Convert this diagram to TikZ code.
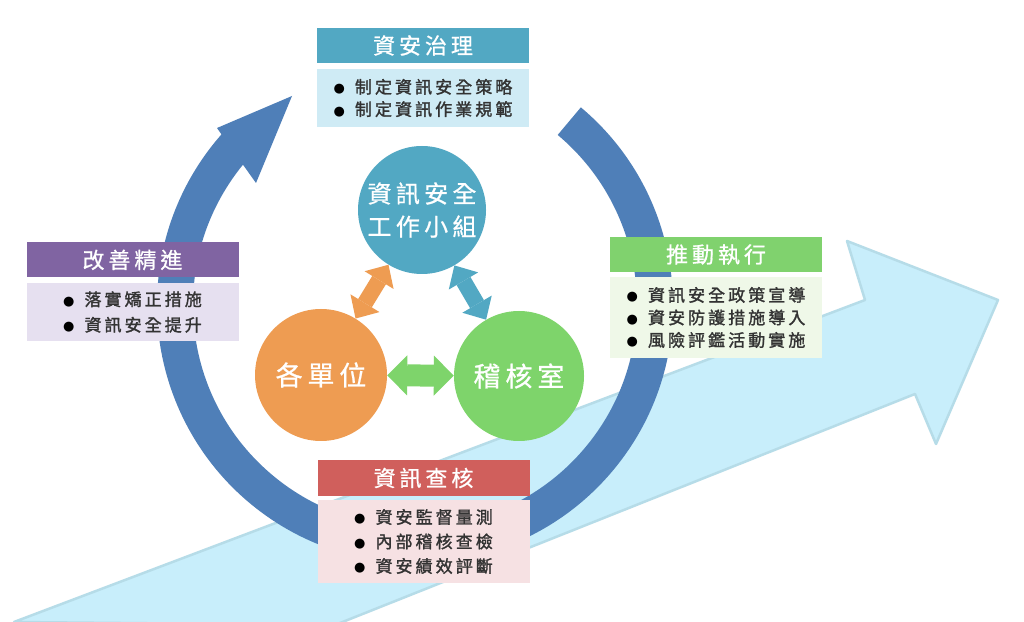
\documentclass[tikz,border=0pt]{standalone}
\usepackage{fontspec}
\newfontfamily\cjk[LetterSpace=18,FakeBold=0.8]{Noto Sans CJK TC}
\newfontfamily\cjkb[LetterSpace=18,FakeBold=1.6]{Noto Sans CJK TC}
\newfontfamily\symf{DejaVu Sans}
\usetikzlibrary{arrows.meta}
\definecolor{ringblue}{HTML}{4F7FB8}
\definecolor{tealc}{HTML}{52A8C3}
\definecolor{tealbody}{HTML}{CFEBF5}
\definecolor{purplec}{HTML}{8064A2}
\definecolor{purplebody}{HTML}{E6E0F0}
\definecolor{greenc}{HTML}{80D26E}
\definecolor{greenbody}{HTML}{EFF8E8}
\definecolor{redc}{HTML}{D05F5C}
\definecolor{redbody}{HTML}{F6E1E3}
\definecolor{orangec}{HTML}{EE9C52}
\definecolor{greencirc}{HTML}{7ED46B}
\definecolor{lightarrow}{HTML}{C8EEFB}
\definecolor{lightedge}{HTML}{B6DCE8}
\definecolor{bodytext}{HTML}{333333}
\newcommand\bul{{\color{black}\symf\fontsize{13}{13}\selectfont\raisebox{0.5pt}{●}}\hspace{10pt}}
\begin{document}
\begin{tikzpicture}[x=1pt,y=1pt,
  titlebox/.style={rectangle, minimum width=212pt, minimum height=35pt, inner sep=0pt, text=white, font=\cjk\fontsize{22}{26}\selectfont},
  bodybox/.style={rectangle, minimum width=212pt, inner sep=0pt, align=left, text=bodytext},
  circnode/.style={circle, inner sep=0pt, text=white, align=center},
  dblsmall/.style={line width=16pt, {Triangle[length=18pt,width=34pt,line width=0pt]}-{Triangle[length=18pt,width=34pt,line width=0pt]}},
  dblbig/.style={line width=22pt, {Triangle[length=20pt,width=40pt,line width=0pt]}-{Triangle[length=20pt,width=40pt,line width=0pt]}}
]
\useasboundingbox (0,0) rectangle (1024,621);
\fill[white] (0,0) rectangle (1024,621);
\begin{scope}
\clip (0,0) rectangle (1024,621);
\draw[fill=lightarrow, draw=lightedge, line width=2.5pt, line join=round]
  (14,-1) -- (865,321) -- (847,380) -- (998,321) -- (936,177) -- (915,227) -- (335,-4) -- cycle;
\end{scope}
\begin{scope}[shift={(415,316)}]
\fill[ringblue] (50:258) arc[start angle=50, end angle=-221.4, radius=258]
  -- (-198,177) -- (-123,209) -- (-159,122)
  -- (-219.2:222) arc[start angle=-219.2, end angle=50, radius=222] -- cycle;
\end{scope}
\node[circnode, fill=tealc, minimum size=128pt, font=\cjk\fontsize{24}{33}\selectfont] (grp) at (422,411) {資訊安全\\工作小組};
\node[circnode, fill=orangec, minimum size=132pt, font=\cjk\fontsize{27}{30}\selectfont] (unit) at (321,246) {各單位};
\node[circnode, fill=greencirc, minimum size=130pt, font=\cjk\fontsize{27}{30}\selectfont] (audit) at (519,245) {稽核室};
\draw[dblsmall, orangec] (unit) -- (grp);
\draw[dblsmall, tealc] (grp) -- (audit);
\draw[dblbig, greencirc] (unit) -- (audit);
% top box
\node[titlebox, fill=tealc] (govt) at (423,575.5) {資安治理};
\node[bodybox, fill=tealbody, minimum height=58pt, font=\cjkb\fontsize{17}{22.3}\selectfont] (govb) at (423,523) {\bul 制定資訊安全策略\\\bul 制定資訊作業規範};
% left box
\node[titlebox, fill=purplec] (impt) at (132.5,361) {改善精進};
\node[bodybox, fill=purplebody, minimum height=58pt, font=\cjkb\fontsize{17}{25.5}\selectfont] (impb) at (132.5,309) {\bul 落實矯正措施\\\bul 資訊安全提升};
% right box
\node[titlebox, fill=greenc] (exet) at (716,366.5) {推動執行};
\node[bodybox, fill=greenbody, minimum height=81pt, font=\cjkb\fontsize{17}{22.5}\selectfont] (exeb) at (716,303.5) {\bul 資訊安全政策宣導\\\bul 資安防護措施導入\\\bul 風險評鑑活動實施};
% bottom box
\node[titlebox, fill=redc] (chkt) at (423.5,143) {資訊查核};
\node[bodybox, fill=redbody, minimum height=83pt, font=\cjkb\fontsize{17}{24.5}\selectfont] (chkb) at (423.5,79.5) {\bul 資安監督量測\\\bul 內部稽核查檢\\\bul 資安績效評斷};
\end{tikzpicture}
\end{document}
